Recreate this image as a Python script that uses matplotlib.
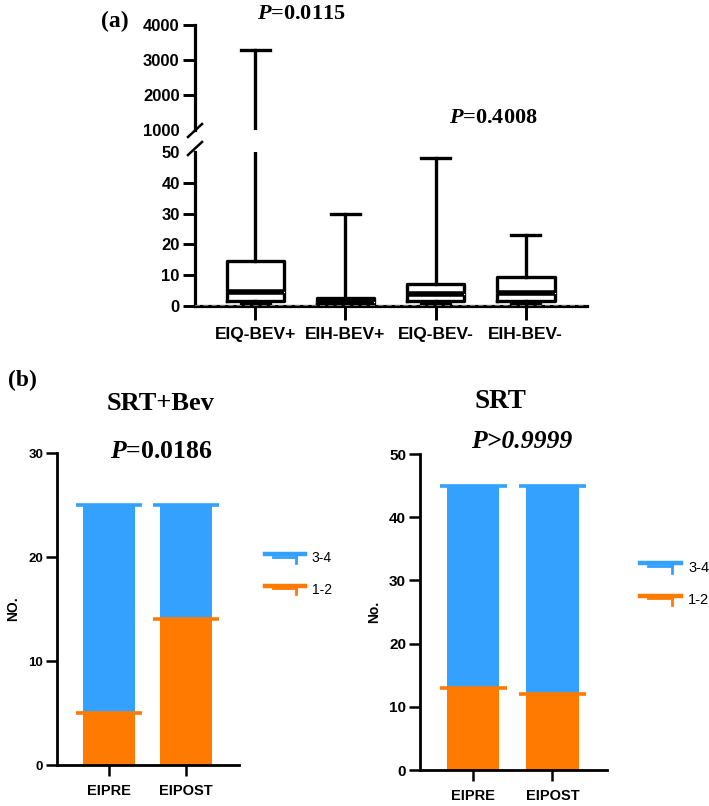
import matplotlib
matplotlib.use("Agg")
import matplotlib.pyplot as plt
from matplotlib.lines import Line2D
from matplotlib.legend_handler import HandlerBase

plt.rcParams['font.family'] = ['Liberation Sans', 'DejaVu Sans']
plt.rcParams['mathtext.fontset'] = 'custom'
plt.rcParams['mathtext.it'] = 'Liberation Serif:italic:bold'
plt.rcParams['mathtext.rm'] = 'Liberation Serif:bold'

# ---------------- data ----------------
box_groups = ['EIQ-BEV+', 'EIH-BEV+', 'EIQ-BEV-', 'EIH-BEV-']
box_min = [1.0, 0.3, 0.5, 0.8]
box_q1 = [1.6, 0.6, 1.5, 1.6]
box_median = [4.4, 1.2, 3.8, 4.2]
box_q3 = [14.5, 2.6, 7.2, 9.5]
box_max = [3300, 30, 48, 23]
p_a1 = '0.0115'
p_a2 = '0.4008'

bar_cats = ['EIPRE', 'EIPOST']
srtbev_12 = [5, 14]
srtbev_34 = [20, 11]
srt_12 = [13, 12]
srt_34 = [32, 33]
legend_labels = ['3-4', '1-2']

BLUE = '#33A1FD'
ORANGE = '#FF7A00'

W, H = 709, 806
fig = plt.figure(figsize=(W / 100, H / 100), dpi=100)


def fx(px):
    return px / W


def fy(py):
    return 1 - py / H


def axes_px(l, r, t, b):
    return fig.add_axes([fx(l), fy(b), fx(r) - fx(l), fy(t) - fy(b)])


# ---------------- panel (a) ----------------
ax_top = axes_px(195, 587, 25, 130)
ax_bot = axes_px(195, 587, 152, 306)

stats = []
for i, g in enumerate(box_groups):
    stats.append(dict(label=g, whislo=box_min[i], q1=box_q1[i], med=box_median[i],
                      q3=box_q3[i], whishi=box_max[i], fliers=[]))
pos = [1, 2, 3, 4]
lw = 2.4
for ax in (ax_top, ax_bot):
    res = ax.bxp(stats, positions=pos, widths=0.64, showfliers=False,
                 boxprops=dict(color='black', linewidth=lw),
                 whiskerprops=dict(color='black', linewidth=lw),
                 capprops=dict(color='black', linewidth=lw),
                 medianprops=dict(color='black', linewidth=4.0),
                 capwidths=0.32)
    for m in res['medians']:
        ax.plot(m.get_xdata(), m.get_ydata(), color='white', lw=0.9)
    ax.set_xlim(0.33, 4.68)
    for s in ('top', 'right'):
        ax.spines[s].set_visible(False)
    ax.spines['left'].set_linewidth(2.3)
    ax.tick_params(axis='y', length=9, width=2.1, labelsize=12, pad=2)

ax_top.set_ylim(1000, 4000)
ax_top.set_yticks([1000, 2000, 3000, 4000])
ax_top.spines['bottom'].set_visible(False)
ax_top.set_xticks([])
ax_top.yaxis.get_major_ticks()[0].tick1line.set_visible(False)

ax_bot.set_ylim(0, 50)
ax_bot.set_yticks([0, 10, 20, 30, 40, 50])
ax_bot.yaxis.get_major_ticks()[-1].tick1line.set_visible(False)
ax_bot.spines['bottom'].set_linewidth(2.3)
ax_bot.axhline(0, color='#888888', lw=1.2, ls=(0, (3, 2)), zorder=3)
ax_bot.set_xticks(pos)
ax_bot.set_xticklabels(box_groups)
ax_bot.tick_params(axis='x', length=10, width=2.1, labelsize=12.5, pad=5)
for ax in (ax_top, ax_bot):
    for t in ax.get_yticklabels() + ax.get_xticklabels():
        t.set_fontweight('bold')

# break marks
fig.add_artist(Line2D([fx(188), fx(202)], [fy(137), fy(124)], color='black', lw=1.8))
fig.add_artist(Line2D([fx(188), fx(202)], [fy(155), fy(142)], color='black', lw=1.8))

fig.text(fx(115), fy(21), '(a)', fontsize=17, fontweight='bold',
         family='Liberation Serif', ha='center', va='center')
fig.text(fx(301), fy(14), r'$\mathit{P}$=' + p_a1, fontsize=16, fontweight='bold',
         family='Liberation Serif', ha='center', va='center')
fig.text(fx(493), fy(118), r'$\mathit{P}$=' + p_a2, fontsize=16, fontweight='bold',
         family='Liberation Serif', ha='center', va='center')
fig.text(fx(22), fy(380), '(b)', fontsize=17, fontweight='bold',
         family='Liberation Serif', ha='center', va='center')


# ---------------- panel (b) ----------------
class CapHandler(HandlerBase):
    def create_artists(self, legend, orig_handle, xdescent, ydescent,
                       width, height, fontsize, trans):
        c = orig_handle.get_color()
        y0 = height * 0.85
        a1 = Line2D([0, width], [y0, y0], color=c, lw=3.2, transform=trans)
        a2 = Line2D([width * 0.2, width * 0.78], [y0 - height * 0.25] * 2,
                    color=c, lw=2.0, transform=trans)
        a3 = Line2D([width * 0.78] * 2, [y0, y0 - height * 0.9], color=c,
                    lw=2.0, transform=trans)
        return [a1, a2, a3]


def stacked(ax, low, high, ymax, yticks, ylabel, tick_fs, bw, cw):
    x = list(range(len(bar_cats)))
    tops = [a + b for a, b in zip(low, high)]
    ax.bar(x, low, width=bw, color=ORANGE, zorder=2)
    ax.bar(x, high, width=bw, bottom=low, color=BLUE, zorder=2)
    ax.hlines(low, [v - cw / 2 for v in x], [v + cw / 2 for v in x],
              color=ORANGE, lw=2.6, zorder=3)
    ax.hlines(tops, [v - cw / 2 for v in x], [v + cw / 2 for v in x],
              color=BLUE, lw=2.6, zorder=3)
    ax.set_xlim(-0.675, 1.69)
    ax.set_ylim(0, ymax)
    ax.set_yticks(yticks)
    ax.set_xticks(x)
    ax.set_xticklabels(bar_cats)
    for s in ('top', 'right'):
        ax.spines[s].set_visible(False)
    ax.spines['left'].set_linewidth(2.0)
    ax.spines['bottom'].set_linewidth(2.0)
    ax.tick_params(axis='y', length=8, width=1.8, labelsize=tick_fs, pad=2)
    ax.tick_params(axis='x', length=8, width=1.8, labelsize=10.5, pad=6)
    for t in ax.get_yticklabels() + ax.get_xticklabels():
        t.set_fontweight('bold')
    ax.set_ylabel(ylabel, fontsize=10, fontweight='bold', labelpad=6)


ax_l = axes_px(57, 239, 453, 765)
stacked(ax_l, srtbev_12, srtbev_34, 30, [0, 10, 20, 30], 'NO.', 9.5, 0.675, 0.86)
ax_r = axes_px(420, 607, 454, 770)
stacked(ax_r, srt_12, srt_34, 50, [0, 10, 20, 30, 40, 50], 'No.', 11, 0.66, 0.85)

handles = [Line2D([], [], color=BLUE), Line2D([], [], color=ORANGE)]
fig.legend(handles, legend_labels, handler_map={Line2D: CapHandler()},
           loc='upper left', bbox_to_anchor=(fx(252), fy(539)), frameon=False,
           fontsize=10, handlelength=2.9, labelspacing=1.25, handletextpad=0.5)
fig.legend(handles, legend_labels, handler_map={Line2D: CapHandler()},
           loc='upper left', bbox_to_anchor=(fx(627), fy(548)), frameon=False,
           fontsize=10.5, handlelength=2.8, labelspacing=1.25, handletextpad=0.5)

fig.text(fx(161), fy(403), 'SRT+Bev', fontsize=19, fontweight='bold',
         family='Liberation Serif', ha='center', va='center')
fig.text(fx(161), fy(452), r'$\mathit{P}$=0.0186', fontsize=18.5, fontweight='bold',
         family='Liberation Serif', ha='center', va='center')
fig.text(fx(500), fy(401), 'SRT', fontsize=19.5, fontweight='bold',
         family='Liberation Serif', ha='center', va='center')
fig.text(fx(522), fy(441), 'P>0.9999', fontsize=18.5, fontweight='bold',
         fontstyle='italic', family='Liberation Serif', ha='center', va='center')

fig.savefig('out.png', dpi=100, facecolor='white')
